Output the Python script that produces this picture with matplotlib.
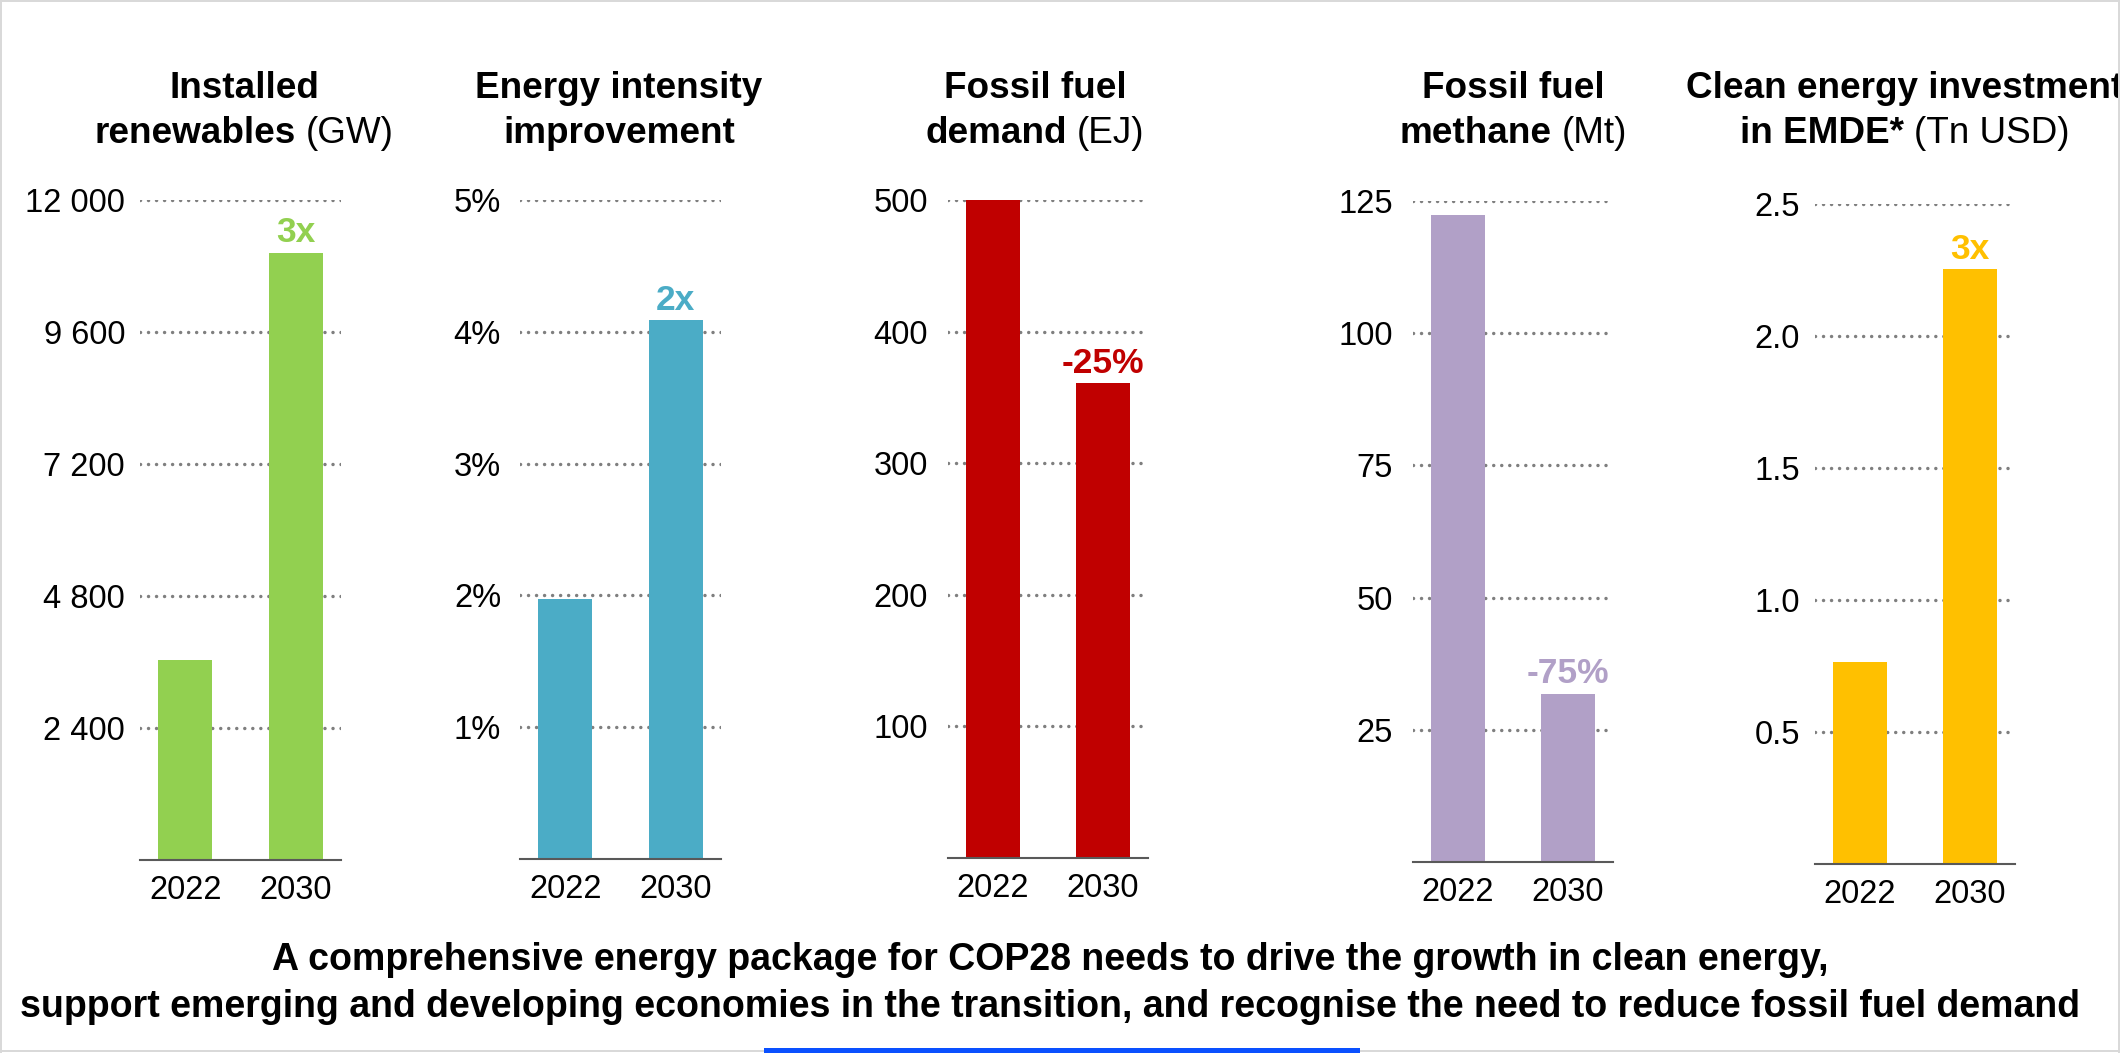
import matplotlib
matplotlib.use("Agg")
import matplotlib.pyplot as plt
from matplotlib.patches import Rectangle
from matplotlib.lines import Line2D

plt.rcParams["font.family"] = ["Liberation Sans", "DejaVu Sans"]

W, H, DPI = 2125, 1053, 100

YEARS = ["2022", "2030"]

renewables = [3640, 11040]
renew_ticks = [2400, 4800, 7200, 9600, 12000]
renew_labels = ["2 400", "4 800", "7 200", "9 600", "12 000"]

intensity = [1.97, 4.09]
intensity_ticks = [1, 2, 3, 4, 5]
intensity_labels = ["1%", "2%", "3%", "4%", "5%"]

fossil = [500, 361]
fossil_ticks = [100, 200, 300, 400, 500]
fossil_labels = ["100", "200", "300", "400", "500"]

methane = [122.3, 31.8]
methane_ticks = [25, 50, 75, 100, 125]
methane_labels = ["25", "50", "75", "100", "125"]

investment = [0.765, 2.254]
invest_ticks = [0.5, 1.0, 1.5, 2.0, 2.5]
invest_labels = ["0.5", "1.0", "1.5", "2.0", "2.5"]

changes = ["3x", "2x", "-25%", "-75%", "3x"]
colors = ["#92D050", "#4BACC6", "#C00000", "#B1A0C7", "#FFC000"]

# each title: two lines, each line a list of (text, weight) runs
titles = [
    [[("Installed", "bold")], [("renewables", "bold"), ("(GW)", "normal")]],
    [[("Energy intensity", "bold")], [("improvement", "bold")]],
    [[("Fossil fuel", "bold")], [("demand", "bold"), ("(EJ)", "normal")]],
    [[("Fossil fuel", "bold")], [("methane", "bold"), ("(Mt)", "normal")]],
    [[("Clean energy investment", "bold")], [("in EMDE*", "bold"), ("(Tn USD)", "normal")]],
]

footer = [
    "A comprehensive energy package for COP28 needs to drive the growth in clean energy,",
    "support emerging and developing economies in the transition, and recognise the need to reduce fossil fuel demand",
]

panels = [
    (renewables, renew_ticks, renew_labels),
    (intensity, intensity_ticks, intensity_labels),
    (fossil, fossil_ticks, fossil_labels),
    (methane, methane_ticks, methane_labels),
    (investment, invest_ticks, invest_labels),
]

# axes boxes in pixels: left, right, y of top tick, y of zero line
boxes = [
    (140, 341, 200, 860),
    (520, 721, 200, 859),
    (948, 1148, 200, 858),
    (1413, 1613, 201, 862),
    (1815, 2015, 204, 864),
]
label_gap = [15, 19, 20, 20, 15]
title_cx = [244, 619, 1035, 1513, 1905]

PT = 72 / DPI


def fx(x):
    return x / W


def fy(y):
    return 1 - y / H


fig = plt.figure(figsize=(W / DPI, H / DPI), dpi=DPI)
fig.patch.set_facecolor("white")

for i, ((vals, ticks, labels), (x0, x1, ytop, yzero)) in enumerate(zip(panels, boxes)):
    ax = fig.add_axes([fx(x0), fy(yzero), (x1 - x0) / W, (yzero - ytop) / H])
    ax.bar([0, 1], vals, width=0.49, color=colors[i], zorder=2)
    ax.set_xlim(-0.41, 1.41)
    ax.set_ylim(0, ticks[-1])
    ax.set_yticks(ticks, labels)
    ax.set_xticks([0, 1], YEARS)
    ax.tick_params(axis="y", length=0, pad=label_gap[i] * PT, labelsize=23.5)
    ax.tick_params(axis="x", length=0, pad=15 * PT, labelsize=23.5)
    ax.set_axisbelow(True)
    ax.grid(axis="y", color="#7F7F7F", linewidth=2.5,
            linestyle=(0, (0.01, 2.3)), dash_capstyle="round")
    for s in ["top", "left", "right"]:
        ax.spines[s].set_visible(False)
    ax.spines["bottom"].set_color("#595959")
    ax.spines["bottom"].set_linewidth(1.5)
    ax.spines["bottom"].set_zorder(3)
    ax.patch.set_alpha(0)
    ax.annotate(changes[i], xy=(1, vals[1]), xytext=(0, 7.5), textcoords="offset points",
                ha="center", va="baseline", color=colors[i], fontweight="bold",
                fontsize=25.5, annotation_clip=False)

# titles with mixed weights, centred per line
renderer = fig.canvas.get_renderer()
title_size = 26.6
gap = 0.278 * title_size / PT
for cx, lines in zip(title_cx, titles):
    for base_y, runs in zip([98, 143], lines):
        texts = [fig.text(0, fy(base_y), s, fontsize=title_size, fontweight=w,
                          va="baseline", ha="left") for s, w in runs]
        widths = [t.get_window_extent(renderer).width for t in texts]
        total = sum(widths) + gap * (len(texts) - 1)
        x = cx - total / 2
        for t, wd in zip(texts, widths):
            t.set_x(fx(x))
            x += wd + gap

for y, line in zip([960, 1007], footer):
    fig.text(fx(1050), fy(y), line, ha="center", va="center",
             fontsize=27, fontweight="bold")

# frame, clipped right edge and the blue accent bar
fig.add_artist(Rectangle((fx(2120), 0), 1 - fx(2120), 1, transform=fig.transFigure,
                         facecolor="white", edgecolor="none", zorder=10))
frame = dict(color="#D9D9D9", linewidth=2 * PT, zorder=11, transform=fig.transFigure)
fig.add_artist(Line2D([fx(1), fx(2119)], [fy(1), fy(1)], **frame))
fig.add_artist(Line2D([fx(1), fx(1)], [fy(1), fy(1052)], **frame))
fig.add_artist(Line2D([fx(2119), fx(2119)], [fy(1), fy(1052)], **frame))
fig.add_artist(Line2D([fx(1), fx(2119)], [fy(1051), fy(1051)], **frame))
fig.add_artist(Rectangle((fx(764), fy(1053)), (1360 - 764) / W, 5 / H,
                         transform=fig.transFigure, facecolor="#0A50FF",
                         edgecolor="none", zorder=12))

fig.savefig("out.png", dpi=DPI, facecolor="white")
